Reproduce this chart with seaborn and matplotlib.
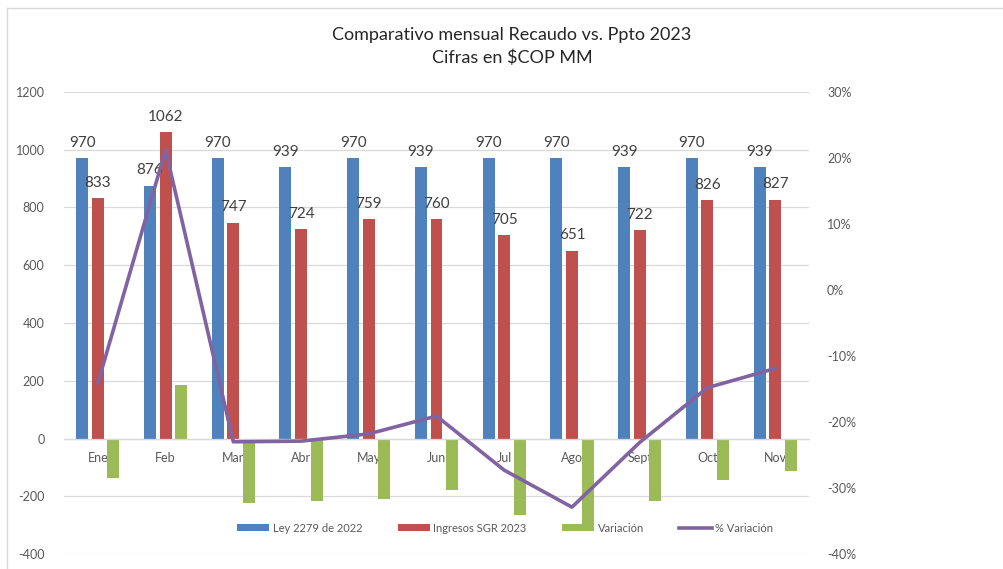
import matplotlib
matplotlib.use("Agg")
import matplotlib.pyplot as plt
from matplotlib.patches import Patch
from matplotlib.lines import Line2D
from matplotlib.ticker import FixedLocator, FixedFormatter
import seaborn as sns
import pandas as pd
import numpy as np

# ---- data ----
months = ["Ene", "Feb", "Mar", "Abr", "May", "Jun", "Jul", "Ago", "Sept", "Oct", "Nov"]
ley_2279 = [970, 876, 970, 939, 970, 939, 970, 970, 939, 970, 939]
ingresos_sgr = [833, 1062, 747, 724, 759, 760, 705, 651, 722, 826, 827]
variacion = [-137, 186, -223, -215, -211, -179, -265, -319, -217, -144, -112]
pct_variacion = [-0.141, 0.212, -0.230, -0.229, -0.218, -0.191, -0.273, -0.329, -0.231, -0.148, -0.119]
series_names = ["Ley 2279 de 2022", "Ingresos SGR 2023", "Variación", "% Variación"]
left_ticks = [-400, -200, 0, 200, 400, 600, 800, 1000, 1200]
right_ticks = [-0.4, -0.3, -0.2, -0.1, 0.0, 0.1, 0.2, 0.3]
right_tick_labels = ["-40%", "-30%", "-20%", "-10%", "0%", "10%", "20%", "30%"]

colors = {"Ley 2279 de 2022": "#4F81BD", "Ingresos SGR 2023": "#C0504D", "Variación": "#9BBB59"}
line_color = "#8064A2"
grid_color = "#D9D9D9"
text_gray = "#595959"

plt.rcParams["font.family"] = ["Lato", "DejaVu Sans"]

df = pd.DataFrame({
    "mes": months * 3,
    "valor": ley_2279 + ingresos_sgr + variacion,
    "serie": [series_names[0]] * len(months) + [series_names[1]] * len(months) + [series_names[2]] * len(months),
})

fig = plt.figure(figsize=(10.04, 5.69), dpi=100)
W, H = 1004, 569
ax = fig.add_axes([64 / W, 1 - 554 / H, (809 - 64) / W, (554 - 92) / H])

sns.barplot(data=df, x="mes", y="valor", hue="serie", order=months, hue_order=series_names[:3],
            palette=colors, width=0.69, gap=0.23, saturation=1, linewidth=0, legend=False, ax=ax)

ax.set_xlim(-0.5, len(months) - 0.5)
ax.set_ylim(-400, 1200)
ax.yaxis.set_major_locator(FixedLocator(left_ticks))
ax.set_yticklabels([str(t) for t in left_ticks])
ax.set_axisbelow(True)
ax.grid(axis="y", color=grid_color, linewidth=0.9)
ax.grid(axis="x", visible=False)
for s in ["top", "right", "left"]:
    ax.spines[s].set_visible(False)
ax.spines["bottom"].set_position(("data", 0))
ax.spines["bottom"].set_color(grid_color)
ax.spines["bottom"].set_linewidth(0.9)
ax.tick_params(axis="y", length=0, pad=14, labelsize=9, labelcolor=text_gray)
ax.tick_params(axis="x", length=0, pad=10, labelsize=9, labelcolor=text_gray)
ax.set_xlabel("")
ax.set_ylabel("")
ax.patch.set_alpha(0)

for cont in ax.containers[:2]:
    ax.bar_label(cont, fmt="%d", padding=6, fontsize=11, color="#404040")

ax2 = ax.twinx()
line_df = pd.DataFrame({"pos": np.arange(len(months)), "pct": pct_variacion})
sns.lineplot(data=line_df, x="pos", y="pct", color=line_color, linewidth=2.6, ax=ax2, sort=False)
ax2.set_ylim(-0.4, 0.3)
ax2.yaxis.set_major_locator(FixedLocator(right_ticks))
ax2.yaxis.set_major_formatter(FixedFormatter(right_tick_labels))
ax2.tick_params(axis="y", length=0, pad=13, labelsize=9, labelcolor=text_gray)
for s in ax2.spines.values():
    s.set_visible(False)
ax2.set_xlabel("")
ax2.set_ylabel("")
ax2.set_xlim(-0.5, len(months) - 0.5)

handles = [Patch(facecolor=colors[n], edgecolor="none") for n in series_names[:3]]
handles.append(Line2D([0], [0], color=line_color, linewidth=2.6))
fig.legend(handles, series_names, loc="center", bbox_to_anchor=(505 / W, 1 - 528 / H), ncol=4,
           frameon=False, fontsize=8, labelcolor=text_gray, handlelength=2.9, handleheight=0.6,
           handletextpad=0.3, columnspacing=3.2)

fig.text(512 / W, 1 - 35 / H, "Comparativo mensual Recaudo vs. Ppto 2023", ha="center", va="center",
         fontsize=13, color="#262626")
fig.text(512 / W, 1 - 58 / H, "Cifras en $COP MM", ha="center", va="center", fontsize=13, color="#262626")

fig.add_artist(Line2D([7 / W, 1.0], [1 - 7.5 / H, 1 - 7.5 / H], color=grid_color, linewidth=1, transform=fig.transFigure))
fig.add_artist(Line2D([7.5 / W, 7.5 / W], [0, 1 - 7.5 / H], color=grid_color, linewidth=1, transform=fig.transFigure))

fig.savefig("out.png", dpi=100)
